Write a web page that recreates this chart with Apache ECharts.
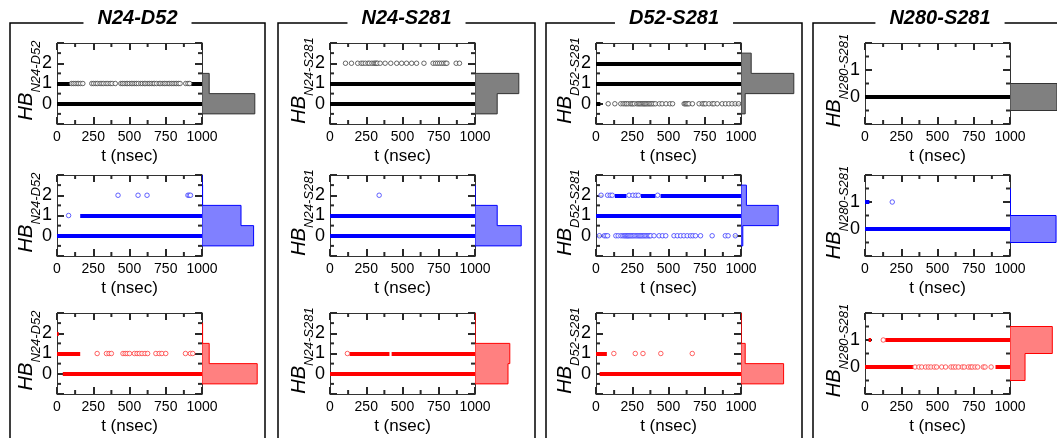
<!DOCTYPE html>
<html>
<head>
<meta charset="utf-8">
<script src="https://cdn.jsdelivr.net/npm/echarts@6/dist/echarts.min.js"></script>
<style>
html, body { margin: 0; padding: 0; background: #fff; }
#main { width: 1057px; height: 438px; }
</style>
</head>
<body>
<div id="main"></div>
<script>
// ---------- data ----------
const pairs = ['N24-D52', 'N24-S281', 'D52-S281', 'N280-S281'];
const tTicks = [0, 250, 500, 750, 1000];

// runs: [HB level, t start, t end] -> stretches where frames overlap into a solid bar
// pts:  [t, HB level]             -> isolated frames (open circles)
// hist: bar length for HB = 0, 1, 2, ...
const N24D52_blackRuns = [[0, 0, 1000], [1, 0, 90], [1, 925, 1000]];
const N24D52_blackPts = [[100,1],[112,1],[125,1],[139,1],[150,1],[163,1],[178,1],[240,1],[253,1],[268,1],[280,1],[297,1],[310,1],[322,1],[338,1],[351,1],[367,1],[380,1],[402,1],[440,1],[451,1],[463,1],[477,1],[488,1],[499,1],[513,1],[524,1],[537,1],[548,1],[561,1],[578,1],[589,1],[603,1],[613,1],[627,1],[638,1],[650,1],[663,1],[673,1],[687,1],[705,1],[716,1],[730,1],[741,1],[752,1],[766,1],[777,1],[790,1],[801,1],[814,1],[825,1],[838,1],[849,1],[888,1],[903,1],[915,1]];
const N24D52_blackHist = [0.88, 0.12];

const N24S281_blackRuns = [[0, 0, 1000], [1, 0, 1000]];
const N24S281_blackPts = [[107,2],[148,2],[191,2],[215,2],[228,2],[244,2],[262,2],[272,2],[289,2],[303,2],[312,2],[320,2],[328,2],[346,2],[380,2],[419,2],[460,2],[494,2],[528,2],[563,2],[597,2],[648,2],[711,2],[728,2],[742,2],[756,2],[770,2],[784,2],[797,2],[806,2],[870,2],[893,2]];
const N24S281_blackHist = [0.37, 0.73];

const D52S281_blackRuns = [[2, 0, 1000], [1, 0, 1000], [0, 0, 30]];
const D52S281_blackPts = [[84,0],[130,0],[171,0],[187,0],[200,0],[210,0],[222,0],[237,0],[247,0],[255,0],[265,0],[282,0],[292,0],[301,0],[310,0],[319,0],[328,0],[335,0],[343,0],[351,0],[360,0],[369,0],[378,0],[387,0],[398,0],[410,0],[437,0],[456,0],[483,0],[510,0],[528,0],[608,0],[616,0],[624,0],[633,0],[642,0],[665,0],[711,0],[733,0],[745,0],[756,0],[779,0],[802,0],[814,0],[836,0],[870,0],[893,0],[916,0],[938,0],[960,0],[984,0]];
const D52S281_blackHist = [0.07, 0.88, 0.17];

const N280S281_blackRuns = [[0, 0, 1000]];
const N280S281_blackPts = [];
const N280S281_blackHist = [1.0];

const N24D52_blueRuns = [[0, 0, 1000], [1, 160, 1000]];
const N24D52_bluePts = [[80,1],[421,2],[559,2],[621,2],[903,2],[912,2],[921,2]];
const N24D52_blueHist = [0.86, 0.65, 0.01, 0];

const N24S281_blueRuns = [[0, 0, 1000], [1, 0, 1000]];
const N24S281_bluePts = [[339,2]];
const N24S281_blueHist = [0.77, 0.37, 0];

const D52S281_blueRuns = [[1, 0, 1000], [2, 130, 210], [2, 310, 410], [2, 445, 1000]];
const D52S281_bluePts = [[35,2],[80,2],[98,2],[112,2],[228,2],[255,2],[275,2],[292,2],[425,2],
  [23,0],[57,0],[69,0],[80,0],[137,0],[153,0],[172,0],[185,0],[195,0],[203,0],[211,0],[218,0],[224,0],[232,0],[240,0],[248,0],[256,0],[265,0],[275,0],[284,0],[293,0],[301,0],[309,0],[317,0],[325,0],[334,0],[343,0],[352,0],[362,0],[370,0],[378,0],[400,0],[435,0],[458,0],[481,0],[538,0],[561,0],[584,0],[606,0],[629,0],[652,0],[668,0],[686,0],[721,0],[801,0],[892,0],[911,0],[961,0]];
const D52S281_blueHist = [0.03, 0.62, 0.09];

const N280S281_blueRuns = [[0, 0, 1000], [1, 0, 30]];
const N280S281_bluePts = [[188,1]];
const N280S281_blueHist = [0.98, 0.01];

const N24D52_redRuns = [[0, 40, 1000], [1, 0, 160], [2, 0, 12]];
const N24D52_redPts = [[277,1],[341,1],[359,1],[375,1],[455,1],[470,1],[484,1],[500,1],[534,1],[552,1],[568,1],[586,1],[607,1],[625,1],[682,1],[705,1],[723,1],[750,1],[886,1],[920,1],[936,1]];
const N24D52_redHist = [0.92, 0.12, 0.01];

const N24S281_redRuns = [[0, 0, 1000], [1, 135, 410], [1, 425, 1000]];
const N24S281_redPts = [[120,1]];
const N24S281_redHist = [0.55, 0.58, 0, 0];

const D52S281_redRuns = [[0, 25, 1000], [1, 0, 75]];
const D52S281_redPts = [[123,1],[271,1],[324,1],[447,1],[664,1]];
const D52S281_redHist = [0.71, 0.07, 0, 0];

const N280S281_redRuns = [[0, 0, 335], [0, 900, 1000], [1, 25, 42], [1, 140, 1000]];
const N280S281_redPts = [[126,1],
  [345,0],[372,0],[391,0],[418,0],[437,0],[455,0],[478,0],[494,0],[529,0],[556,0],[593,0],[609,0],[625,0],[644,0],[671,0],[685,0],[713,0],[729,0],[740,0],[759,0],[777,0],[816,0],[828,0],[870,0]];
const N280S281_redHist = [0.32, 0.9];

// ---------- layout ----------
const FONT = 'Liberation Sans';
const colLeft = [57, 330, 596, 865];
const rowTop = [43, 175, 313];
const plotW = 145, plotH = 81, histW = 60;
const boxes = [[10, 265], [278, 535], [546, 802], [813, 1075]];
const lineCol = ['#000000', '#0000ff', '#ff0000'];
const ptCol = ['#444444', '#3c3cff', '#ff3c3c'];
const histFill = ['#808080', '#8080ff', '#ff8080'];
const histLine = ['#333333', '#0000ff', '#ff0000'];
const frameCol = '#333';
const tickCol = '#2a2a2a';

const panels = [
  [N24D52_blackRuns, N24D52_blackPts, N24D52_blackHist],
  [N24S281_blackRuns, N24S281_blackPts, N24S281_blackHist],
  [D52S281_blackRuns, D52S281_blackPts, D52S281_blackHist],
  [N280S281_blackRuns, N280S281_blackPts, N280S281_blackHist],
  [N24D52_blueRuns, N24D52_bluePts, N24D52_blueHist],
  [N24S281_blueRuns, N24S281_bluePts, N24S281_blueHist],
  [D52S281_blueRuns, D52S281_bluePts, D52S281_blueHist],
  [N280S281_blueRuns, N280S281_bluePts, N280S281_blueHist],
  [N24D52_redRuns, N24D52_redPts, N24D52_redHist],
  [N24S281_redRuns, N24S281_redPts, N24S281_redHist],
  [D52S281_redRuns, D52S281_redPts, D52S281_redHist],
  [N280S281_redRuns, N280S281_redPts, N280S281_redHist]
];

const measure = document.createElement('canvas').getContext('2d');
function textW(str, font) {
  measure.font = font;
  return measure.measureText(str).width;
}

function xMain(gi, pos, labels) {
  return {
    type: 'value', gridIndex: gi, position: pos,
    min: tTicks[0], max: tTicks[tTicks.length - 1], interval: tTicks[1] - tTicks[0],
    axisLine: { show: true, onZero: false, lineStyle: { color: frameCol, width: 1 } },
    axisTick: { show: true, inside: true, length: 7, lineStyle: { color: tickCol, width: 2 } },
    splitLine: { show: false },
    axisLabel: labels ? {
      show: true, fontSize: 14, color: '#000', margin: 6, fontFamily: FONT,
      formatter: v => String(v)
    } : { show: false },
    name: labels ? 't (nsec)' : '',
    nameLocation: 'middle', nameGap: 24,
    nameTextStyle: { fontSize: 17, color: '#000', fontFamily: FONT }
  };
}

function yMain(gi, pos, labels, yMax) {
  return {
    type: 'value', gridIndex: gi, position: pos,
    min: -1, max: yMax, interval: 1,
    axisLine: { show: true, onZero: false, lineStyle: { color: frameCol, width: 1 } },
    axisTick: { show: true, inside: true, length: 7, lineStyle: { color: tickCol, width: 2 } },
    splitLine: { show: false },
    axisLabel: labels ? {
      show: true, fontSize: 18, color: '#000', margin: 5, fontFamily: FONT,
      formatter: v => (v >= 0 && v < yMax) ? String(v) : ''
    } : { show: false }
  };
}

const grid = [], xAxis = [], yAxis = [], series = [], graphic = [];

// minor tick marks halfway between the major ticks, inward on all four sides
function addMinorTicks(left, top, yMax) {
  const tMin = tTicks[0], tMax = tTicks[tTicks.length - 1];
  const len = 4;
  const mark = (x, y, w, h) => graphic.push({
    type: 'rect', silent: true, z: 50,
    shape: { x: x, y: y, width: w, height: h },
    style: { fill: tickCol }
  });
  for (let i = 0; i < tTicks.length - 1; i++) {
    const tt = (tTicks[i] + tTicks[i + 1]) / 2;
    const px = left + (tt - tMin) / (tMax - tMin) * plotW;
    mark(px - 1, top + plotH - len, 2, len);
    mark(px - 1, top, 2, len);
  }
  for (let v = -0.5; v < yMax; v += 1) {
    const py = top + (yMax - v) / (yMax + 1) * plotH;
    mark(left, py - 1, len, 2);
    mark(left + plotW - len, py - 1, len, 2);
  }
}

panels.forEach((p, k) => {
  const col = k % 4, row = Math.floor(k / 4);
  const [runs, pts, hist] = p;
  const left = colLeft[col], top = rowTop[row];
  const yMax = col === 3 ? 2 : 3;
  const gi = grid.length, xi = xAxis.length, yi = yAxis.length;

  grid.push({ left: left, top: top, width: plotW, height: plotH });
  grid.push({ left: left + plotW, top: top, width: histW, height: plotH });
  xAxis.push(xMain(gi, 'bottom', true), xMain(gi, 'top', false),
    { type: 'value', gridIndex: gi + 1, min: 0, max: 1, show: false });
  yAxis.push(yMain(gi, 'left', true, yMax), yMain(gi, 'right', false, yMax),
    { type: 'value', gridIndex: gi + 1, min: -1, max: yMax, show: false });

  series.push({
    type: 'lines', coordinateSystem: 'cartesian2d', xAxisIndex: xi, yAxisIndex: yi,
    silent: true, z: 1,
    lineStyle: { color: lineCol[row], width: 4, opacity: 1 },
    data: runs.map(r => ({ coords: [[r[1], r[0]], [r[2], r[0]]] }))
  });
  series.push({
    type: 'scatter', xAxisIndex: xi, yAxisIndex: yi, silent: true, z: 1,
    symbol: 'circle', symbolSize: 4.5,
    itemStyle: { color: '#fff', borderColor: ptCol[row], borderWidth: 1 },
    data: pts
  });
  series.push({
    type: 'custom', xAxisIndex: xi + 2, yAxisIndex: yi + 2, clip: true, silent: true,
    data: [[0, 0]],
    renderItem: function (params, api) {
      const poly = [api.coord([0, -0.5])];
      hist.forEach((w, lv) => {
        poly.push(api.coord([w, lv - 0.5]));
        poly.push(api.coord([w, lv + 0.5]));
      });
      poly.push(api.coord([0, hist.length - 0.5]));
      return {
        type: 'polygon', shape: { points: poly },
        style: { fill: histFill[row], stroke: histLine[row], lineWidth: 1 }
      };
    }
  });

  addMinorTicks(left, top, yMax);

  // y axis title: HB with subscript, rotated
  const hbFont = 'italic 20px "' + FONT + '"';
  const subFont = 'italic 13px "' + FONT + '"';
  const sub = pairs[col];
  const cy = top + plotH / 2 - 3;
  const j = cy + (textW(sub, subFont) - textW('HB', hbFont)) / 2;
  graphic.push({
    type: 'text', x: left - 31, y: j, rotation: Math.PI / 2, silent: true,
    style: { text: 'HB', fontSize: 20, fontStyle: 'italic', fontFamily: FONT, fill: '#000', align: 'right', verticalAlign: 'middle' }
  });
  graphic.push({
    type: 'text', x: left - 21, y: j, rotation: Math.PI / 2, silent: true,
    style: { text: sub, fontSize: 13, fontStyle: 'italic', fontFamily: FONT, fill: '#000', align: 'left', verticalAlign: 'middle' }
  });
});

boxes.forEach((b, c) => {
  graphic.push({
    type: 'rect', silent: true, z: 1,
    shape: { x: b[0], y: 23, width: b[1] - b[0], height: 450 },
    style: { fill: 'none', stroke: '#000', lineWidth: 1.5 }
  });
  graphic.push({
    type: 'text', silent: true, z: 10,
    x: (b[0] + Math.min(b[1], 1067)) / 2, y: 18,
    style: {
      text: pairs[c], fontSize: 20, fontWeight: 'bold', fontStyle: 'italic', fontFamily: FONT,
      fill: '#000', align: 'center', verticalAlign: 'middle',
      backgroundColor: '#fff', padding: [2, 14]
    }
  });
});

const chart = echarts.init(document.getElementById('main'));
chart.setOption({
  animation: false,
  backgroundColor: '#fff',
  grid: grid,
  xAxis: xAxis,
  yAxis: yAxis,
  series: series,
  graphic: graphic
});
</script>
</body>
</html>
